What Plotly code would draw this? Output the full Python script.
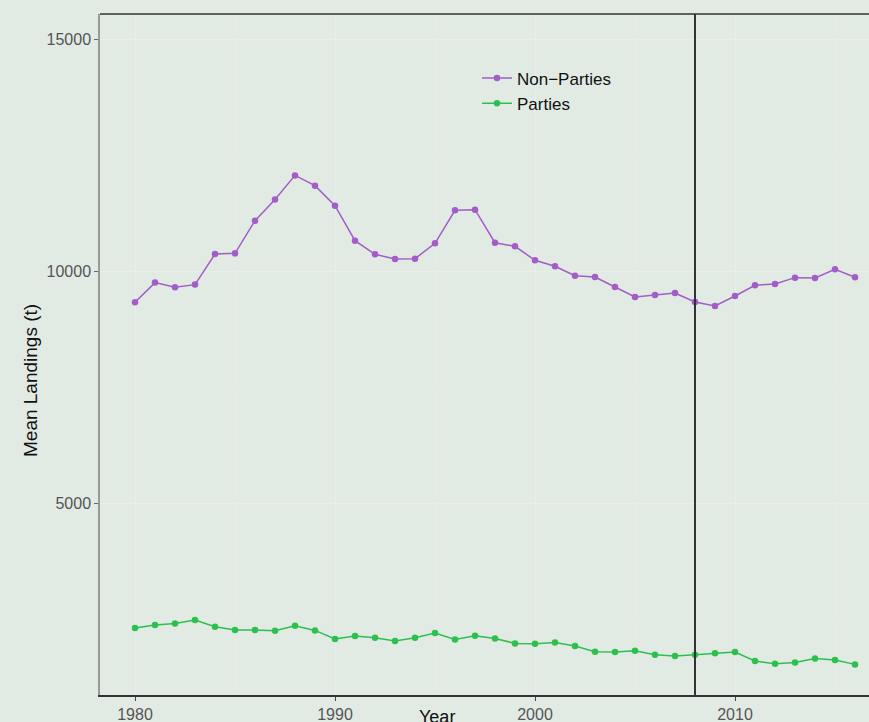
import plotly.graph_objects as go

years = list(range(1980, 2017))
non_parties = [9333, 9757, 9656, 9714, 10372, 10387, 11090, 11548, 12065, 11843,
               11412, 10660, 10366, 10265, 10272, 10602, 11312, 11326, 10616, 10538,
               10237, 10108, 9907, 9878, 9663, 9448, 9491, 9534, 9340, 9254,
               9469, 9699, 9728, 9864, 9857, 10043, 9871]
parties = [2323, 2387, 2423, 2495, 2351, 2280, 2280, 2265, 2373, 2272,
           2086, 2151, 2115, 2043, 2115, 2215, 2079, 2158, 2100, 1993,
           1986, 2014, 1935, 1814, 1806, 1835, 1749, 1720, 1749, 1778,
           1806, 1613, 1556, 1584, 1670, 1634, 1541]
x_ticks = [1980, 1990, 2000, 2010]
y_ticks = [5000, 10000, 15000]
event_year = 2008

purple = "#a25dc6"
green = "#2dbf4f"
bg = "#e1ebe4"
font_family = "Liberation Sans, Arial, Helvetica, sans-serif"

fig = go.Figure()
fig.add_trace(go.Scatter(x=years, y=non_parties, mode="lines+markers", name="Non\u2212Parties",
                         line=dict(color=purple, width=1.5), marker=dict(color=purple, size=6.5)))
fig.add_trace(go.Scatter(x=years, y=parties, mode="lines+markers", name="Parties",
                         line=dict(color=green, width=1.5), marker=dict(color=green, size=6.5)))

fig.add_vline(x=event_year, line=dict(color="#333333", width=2))
fig.add_shape(type="line", xref="paper", yref="paper", x0=0, x1=1, y0=1, y1=1,
              line=dict(color="#333333", width=1.5))

# plot area: x 100..869, y 14..695 (height 681, width 769)
fig.add_annotation(text="Year", xref="paper", yref="paper", x=(437 - 100) / 769, y=(695 - 717) / 681,
                   xanchor="center", yanchor="middle", showarrow=False,
                   font=dict(size=18, color="#111111", family=font_family))
fig.add_annotation(text="Mean Landings (t)", xref="paper", yref="paper", x=(30 - 100) / 769,
                   y=(695 - 381) / 681,
                   xanchor="center", yanchor="middle", showarrow=False, textangle=-90,
                   font=dict(size=19, color="#111111", family=font_family))

fig.update_layout(
    width=869, height=722,
    margin=dict(l=100, r=0, t=14, b=27),
    paper_bgcolor=bg, plot_bgcolor=bg,
    font=dict(family=font_family),
    showlegend=True,
    legend=dict(x=(477 - 100) / 769, y=(695 - 60.5) / 681, xanchor="left", yanchor="top",
                bgcolor="rgba(0,0,0,0)",
                font=dict(size=17, color="#111111"), itemwidth=30, tracegroupgap=0),
    xaxis=dict(range=[1978.25, 2016.7], tickvals=x_ticks, tickformat="d", showgrid=True,
               gridcolor="#e9eeea", gridwidth=1,
               minor=dict(dtick=5, tick0=1980, showgrid=True, gridcolor="#e5ece7", gridwidth=1),
               ticks="outside", ticklen=4, tickcolor="#444444",
               tickfont=dict(size=16, color="#555555"),
               showline=True, linecolor="#333333", linewidth=1.5, zeroline=False),
    yaxis=dict(range=[882, 15538], tickvals=y_ticks, tickformat="d", showgrid=True,
               gridcolor="#e9eeea", gridwidth=1,
               minor=dict(dtick=2500, tick0=0, showgrid=True, gridcolor="#e5ece7", gridwidth=1),
               ticks="outside", ticklen=4, tickcolor="#666666",
               tickfont=dict(size=16, color="#555555"),
               showline=True, linecolor="#999999", linewidth=1.5, zeroline=False),
)

fig.write_html("out.html", config={"displayModeBar": False},
               post_script="document.body.style.margin='0';document.body.style.overflow='hidden';"
                           "document.body.style.background='" + bg + "';")
